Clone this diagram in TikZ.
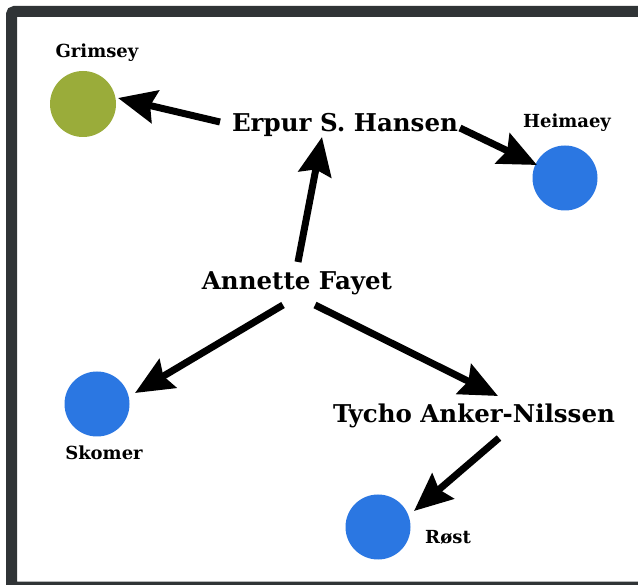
\documentclass[tikz,border=0pt]{standalone}
\usepackage{fontspec}
\setmainfont{DejaVu Serif}
\usetikzlibrary{arrows.meta}
\definecolor{framegray}{HTML}{303436}
\definecolor{islandblue}{HTML}{2B77E2}
\definecolor{islandgreen}{HTML}{9AAC3A}
\tikzset{
  person/.style={font=\bfseries\fontsize{24.5}{28}\selectfont, inner sep=0pt},
  place/.style={font=\bfseries\fontsize{18}{20}\selectfont, inner sep=0pt},
  island/.style={circle, minimum size=65pt, inner sep=0pt},
  link/.style={line width=7pt, -{Stealth[length=38pt,width=33pt,inset=5pt]}}
}
\begin{document}
\begin{tikzpicture}[x=1pt,y=-1pt]
  \useasboundingbox (0,0) rectangle (638,585);
  \fill[white] (0,0) rectangle (638,585);
  % outer frame
  \draw[framegray, line width=11pt, rounded corners=3pt] (11.5,11.5) rectangle (644,587);

  % islands
  \node[island, fill=islandgreen, minimum width=66pt, minimum height=62pt] (grim) at (83,104) {};
  \node[island, fill=islandblue] (heim) at (565,178) {};
  \node[island, fill=islandblue] (skom) at (97,404) {};
  \node[island, fill=islandblue] (rost) at (378,527) {};

  \node[place] (lgrim) at (97,53) {Grimsey};
  \node[place] (lheim) at (567,123) {Heimaey};
  \node[place] (lskom) at (104,453) {Skomer};
  \node[place] (lrost) at (448,537) {Røst};

  % researchers
  \node[person] (erpur) at (345,125) {Erpur S. Hansen};
  \node[person] (anne) at (297,283) {Annette Fayet};
  \node[person] (tycho) at (474,416) {Tycho Anker-Nilssen};

  % links
  \coordinate (e1) at (220,122); \coordinate (g1) at (118,98);
  \coordinate (e2) at (460,128); \coordinate (h1) at (537,165);
  \coordinate (a1) at (298,262); \coordinate (e3) at (322,137);
  \coordinate (a2) at (283,305); \coordinate (s1) at (135,393);
  \coordinate (a3) at (315,305); \coordinate (t1) at (498,396);
  \coordinate (t2) at (499,438); \coordinate (r1) at (414,511);
  \draw[link] (e1) -- (g1);
  \draw[link] (e2) -- (h1);
  \draw[link] (a1) -- (e3);
  \draw[link] (a2) -- (s1);
  \draw[link] (a3) -- (t1);
  \draw[link] (t2) -- (r1);
\end{tikzpicture}
\end{document}
